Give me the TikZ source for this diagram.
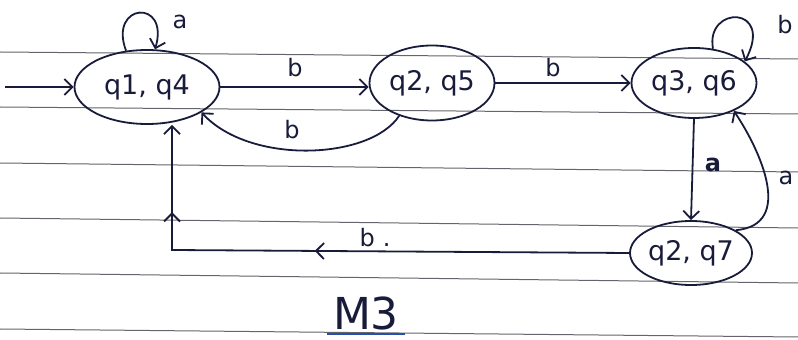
\documentclass[tikz,border=0pt]{standalone}
\usepackage{fontspec}
\setmainfont{DejaVu Sans}
\usetikzlibrary{shapes.geometric,arrows.meta,decorations.markings}
\definecolor{ink}{RGB}{24,28,58}
\definecolor{rulec}{RGB}{100,100,108}
\definecolor{uline}{RGB}{40,80,170}
\tikzset{
  state/.style={draw=ink, line width=1.8pt, ellipse, inner sep=0pt, text=ink, font=\fontsize{27}{29}\selectfont},
  edge/.style={color=ink, line width=1.8pt, -{Straight Barb[length=8pt,width=16pt]}},
  lbl/.style={text=ink, font=\fontsize{24}{26}\selectfont, inner sep=0pt},
  ruling/.style={draw=rulec, line width=1pt},
  barb/.tip={Straight Barb[length=8pt,width=16pt,line width=1.8pt]},
  twomarks/.style 2 args={postaction={decorate}, decoration={markings,
      mark=at position #1 with {\arrow{barb}},
      mark=at position #2 with {\arrow{barb}}}},
}
\begin{document}
\begin{tikzpicture}[x=1pt,y=1pt]
\useasboundingbox (0,0) rectangle (798,340);
% ruled paper
\draw[ruling] (0,288) -- (798,281);
\draw[ruling] (0,233) -- (798,226);
\draw[ruling] (0,177) -- (798,168);
\draw[ruling] (0,122) -- (798,112);
\draw[ruling] (0,67) -- (798,57);
\draw[ruling] (0,11) -- (798,3);
% states
\node[state, minimum width=145pt, minimum height=74pt] (A) at (147,253) {q1, q4};
\node[state, minimum width=125pt, minimum height=75pt] (B) at (432,257) {q2, q5};
\node[state, minimum width=125pt, minimum height=70pt] (C) at (694,257) {q3, q6};
\node[state, minimum width=122pt, minimum height=64pt] (D) at (691,87) {q2, q7};
\coordinate (s) at (5,253);
\coordinate (corner) at (172,90);
% edges
\draw[edge] (s) -- (A.west);
\draw[edge] (A.east) -- (B.west |- A.east);
\draw[edge] (B.east) -- (C.west);
\draw[edge] (B.225) .. controls (370,180) and (250,175) .. (A.-25);
\draw[edge] (A.120) .. controls (108,337) and (170,342) .. (A.78);
\draw[edge] (C.61) .. controls (705,335) and (775,335) .. (C.23);
\draw[edge] (C.south) -- (D.north);
\draw[edge] (D.27) .. controls (795,115) and (760,190) .. (C.-35);
\draw[edge, twomarks={0.54}{0.85}] (D.west) -- (corner) -- (A.south -| corner);
% labels
\node[lbl] (la1) at (180,318) {a};
\node[lbl] (lb1) at (295,272) {b};
\node[lbl] (lb2) at (553,272) {b};
\node[lbl] (lb3) at (292,210) {b};
\node[lbl] (lb4) at (785,315) {b};
\node[lbl, font=\fontsize{24}{26}\bfseries] (la2) at (713,175) {a};
\node[lbl] (la3) at (786,162) {a};
\node[lbl] (lb5) at (375,102) {b\,\,.};
\node[lbl, font=\fontsize{44}{46}\selectfont, anchor=base, text depth=0pt] (m3) at (366,10) {M3};
\draw[uline, line width=1.8pt] ([xshift=-6pt]m3.base west) ++(0,-4) -- ([xshift=6pt,yshift=-4pt]m3.base east);
\end{tikzpicture}
\end{document}
